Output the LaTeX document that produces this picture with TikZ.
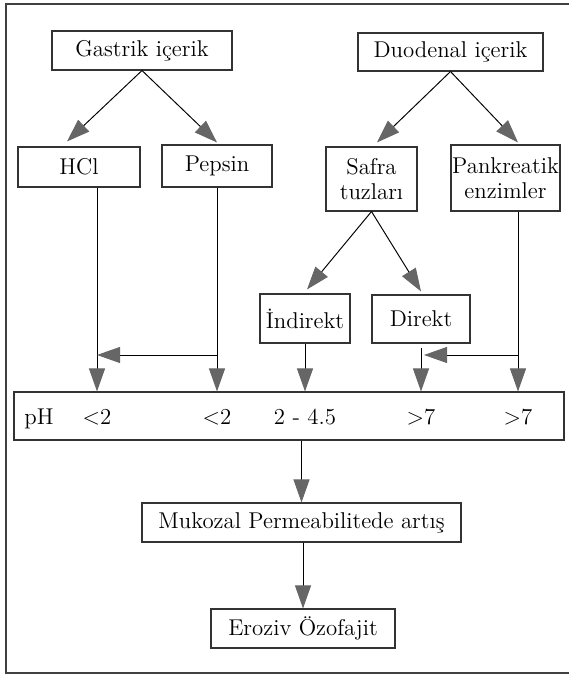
\documentclass[tikz,border=0pt]{standalone}
\usetikzlibrary{arrows.meta}

\begin{document}
\begin{tikzpicture}[
    box/.style={rectangle, draw=black!80, line width=0.6pt, inner sep=0pt,
                align=center, font=\fontsize{13}{14.5}\selectfont},
    lab/.style={font=\fontsize{13}{14.5}\selectfont, inner sep=0pt, anchor=base},
    arr/.style={-{Triangle[length=0.46cm, width=0.32cm, color=black!60]},
                line width=0.55pt}
]
    \useasboundingbox (0,0) rectangle (11.38,13.48);

    % Frame (open on the right)
    \draw[line width=0.8pt, black!75] (11.38,13.40) -- (0.12,13.40)
        -- (0.12,0.02) -- (11.38,0.02);

    % Sources
    \node[box, minimum width=3.6cm, minimum height=0.78cm] (gastrik) at (2.84,12.47) {Gastrik içerik};
    \node[box, minimum width=3.7cm, minimum height=0.76cm] (duoden) at (9.01,12.44) {Duodenal içerik};

    % Second row
    \node[box, minimum width=2.44cm, minimum height=0.80cm] (hcl)    at (1.58,10.14) {HCl};
    \node[box, minimum width=2.20cm, minimum height=0.84cm] (pepsin) at (4.34,10.16) {Pepsin};
    \node[box, minimum width=1.82cm, minimum height=1.28cm] (safra)  at (7.43, 9.90) {Safra\\tuzları};
    \node[box, minimum width=2.18cm, minimum height=1.32cm] (pank)   at (10.11,9.92) {Pankreatik\\enzimler};

    % Bile salts
    \node[box, minimum width=1.80cm, minimum height=0.98cm] (indirekt) at (6.10,7.11) {İndirekt};
    \node[box, minimum width=1.96cm, minimum height=0.96cm] (direkt)   at (8.42,7.10) {Direkt};

    % pH row
    \node[box, minimum width=11.0cm, minimum height=0.96cm] (ph) at (5.78,5.16) {};
    \node[box, minimum width=6.38cm, minimum height=0.78cm] (muk)    at (6.03,3.03) {Mukozal Permeabilitede artış};
    \node[box, minimum width=3.68cm, minimum height=0.78cm] (eroziv) at (6.06,0.91) {Eroziv Özofajit};

    % Helper coordinates
    \coordinate (hclx) at ([xshift=0.36cm]hcl.south);
    \coordinate (pankx) at ([xshift=0.25cm]pank.south);
    \coordinate (pj) at (4.34,6.38);
    \coordinate (kj) at (10.36,6.38);
    \coordinate (phb) at (0.78,4.98);

    % Labels in the pH box
    \node[lab] (phl) at (phb) {pH};
    \node[lab] (p1) at (hclx |- phb) {<2};
    \node[lab] (p2) at (pepsin.south |- phb) {<2};
    \node[lab] (p3) at (indirekt.south |- phb) {2 - 4.5};
    \node[lab] (p4) at (direkt.south |- phb) {>7};
    \node[lab] (p5) at (pankx |- phb) {>7};

    % Branching arrows
    \draw[arr] (gastrik.south) -- ([xshift=-0.24cm, yshift=0.1cm]hcl.north);
    \draw[arr] (gastrik.south) -- ([yshift=0.04cm]pepsin.north);
    \draw[arr] (duoden.south) -- ([xshift=0.11cm, yshift=0.08cm]safra.north);
    \draw[arr] (duoden.south) -- ([xshift=0.25cm, yshift=0.04cm]pank.north);
    \draw[arr] (safra.south) -- ([xshift=0.04cm, yshift=0.08cm]indirekt.north);
    \draw[arr] (safra.south) -- ([yshift=0.06cm]direkt.north);

    % Into the pH box
    \draw[arr] (hclx) -- (hclx |- ph.north);
    \draw[arr] (pepsin.south) -- (pepsin.south |- ph.north);
    \draw[arr] (pj) -- (pj -| hclx);
    \draw[arr] (indirekt.south) -- (indirekt.south |- ph.north);
    \draw[arr] ([yshift=-0.08cm]direkt.south) -- (direkt.south |- ph.north);
    \draw[arr] (pankx) -- (pankx |- ph.north);
    \draw[arr] (kj) -- ([xshift=0.06cm]kj -| direkt.south);

    % Down to the result
    \draw[arr] (muk.north |- ph.south) -- (muk.north);
    \draw[arr] (eroziv.north |- muk.south) -- (eroziv.north);

\end{tikzpicture}
\end{document}
